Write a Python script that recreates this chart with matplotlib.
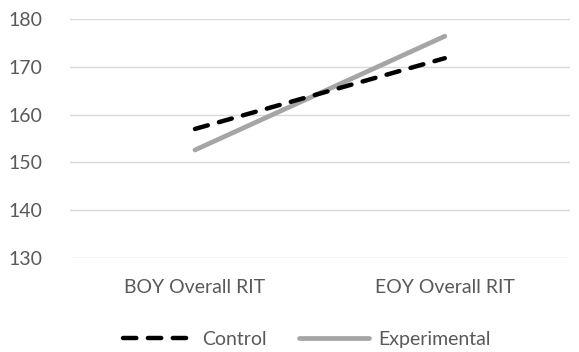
import matplotlib.pyplot as plt

categories = ["BOY Overall RIT", "EOY Overall RIT"]
control = [157.0, 171.8]
experimental = [152.6, 176.4]
yticks = [130, 140, 150, 160, 170, 180]

plt.rcParams['font.family'] = ['Lato', 'DejaVu Sans']

fig = plt.figure(figsize=(5.79, 3.52), dpi=100)
ax = fig.add_axes([0.121, 0.267, 0.863, 0.679])

x = list(range(len(categories)))
ax.plot(x, control, color='black', lw=3.2, dashes=(3.0, 2.6),
        dash_capstyle='round', label='Control', zorder=3)
ax.plot(x, experimental, color='#a5a5a5', lw=3.4,
        solid_capstyle='round', label='Experimental', zorder=2)

ax.set_xlim(-0.5, 1.5)
ax.set_ylim(130, 180)
ax.set_yticks(yticks)
ax.set_xticks(x)
ax.set_xticklabels(categories)
ax.grid(axis='y', color='#d9d9d9', lw=1)
ax.set_axisbelow(True)
for s in ax.spines.values():
    s.set_visible(False)
ax.tick_params(length=0, labelsize=14, labelcolor='#595959')
ax.tick_params(axis='x', pad=15)
ax.tick_params(axis='y', pad=20)

leg = fig.legend(loc='lower center', bbox_to_anchor=(0.53, -0.038), ncol=2,
                 frameon=False, fontsize=14, handlelength=3.6,
                 columnspacing=1.7, handletextpad=0.45)
for t in leg.get_texts():
    t.set_color('#595959')

fig.savefig('out.png', dpi=100)
